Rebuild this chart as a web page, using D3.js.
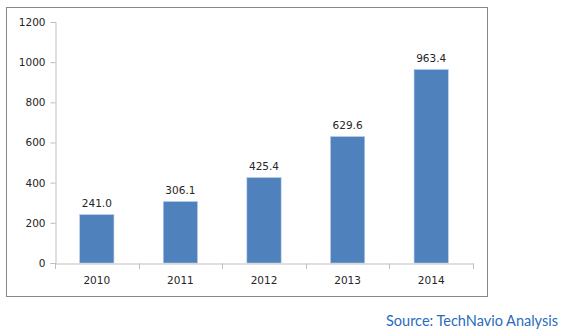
<!DOCTYPE html>
<html><head><meta charset="utf-8">
<script src="https://cdn.jsdelivr.net/npm/d3@7"></script>
<style>body{margin:0;background:#fff}svg{display:block}</style>
</head><body>
<svg id="c" width="563" height="335"></svg>
<script>
const categories = ["2010","2011","2012","2013","2014"];
const values = [241.0, 306.1, 425.4, 629.6, 963.4];
const labels = ["241.0","306.1","425.4","629.6","963.4"];
const yTicks = [0,200,400,600,800,1000,1200];

const svg = d3.select("#c");
svg.append("rect").attr("x",6.5).attr("y",7.5).attr("width",481).attr("height",289)
  .attr("fill","#fff").attr("stroke","#888").attr("stroke-width",1);

const x = d3.scaleBand().domain(categories).range([55,473]).paddingInner(0.59).paddingOuter(0.295);
const y = d3.scaleLinear().domain([0,1200]).range([263,22]);
const font = "DejaVu Sans, Verdana, sans-serif";

// y axis
const ya = svg.append("g").attr("transform","translate(55.5,0)")
  .call(d3.axisLeft(y).tickValues(yTicks).tickSize(5).tickPadding(5).tickFormat(d3.format("d")));
ya.select(".domain").attr("stroke","#bfbfbf");
ya.selectAll(".tick line").attr("stroke","#bfbfbf");
ya.selectAll("text").attr("font-family",font).attr("font-size","10.5px").attr("fill","#262626");

// bars
svg.append("g").selectAll("rect").data(values).join("rect")
  .attr("x",(d,i)=>x(categories[i])).attr("width",x.bandwidth())
  .attr("y",d=>y(d)).attr("height",d=>y(0)-y(d))
  .attr("fill","#4f81bd").attr("stroke","#b9cde5").attr("stroke-width",0.6);

// x axis
const xa = svg.append("g").attr("transform","translate(0,263.5)")
  .call(d3.axisBottom(x).tickSize(0).tickPadding(13));
xa.select(".domain").attr("stroke","#bfbfbf");
xa.selectAll("text").attr("font-family",font).attr("font-size","10.5px").attr("fill","#262626");
const bounds = d3.range(categories.length+1).map(i=>55+i*x.step());
svg.append("g").selectAll("line").data(bounds).join("line")
  .attr("x1",d=>Math.round(d)+0.5).attr("x2",d=>Math.round(d)+0.5)
  .attr("y1",263.5).attr("y2",269).attr("stroke","#bfbfbf");

// labels
svg.append("g").selectAll("text").data(values).join("text")
  .attr("x",(d,i)=>x(categories[i])+x.bandwidth()/2).attr("y",d=>y(d)-8)
  .attr("text-anchor","middle").attr("font-family",font).attr("font-size","10.5px").attr("fill","#262626")
  .text((d,i)=>labels[i]);

svg.append("text").attr("x",558).attr("y",326).attr("text-anchor","end")
  .attr("font-family","Lato, Open Sans, sans-serif").attr("font-size","14.5px").attr("fill","#2a6bc0")
  .text("Source: TechNavio Analysis");
</script>
</body></html>
